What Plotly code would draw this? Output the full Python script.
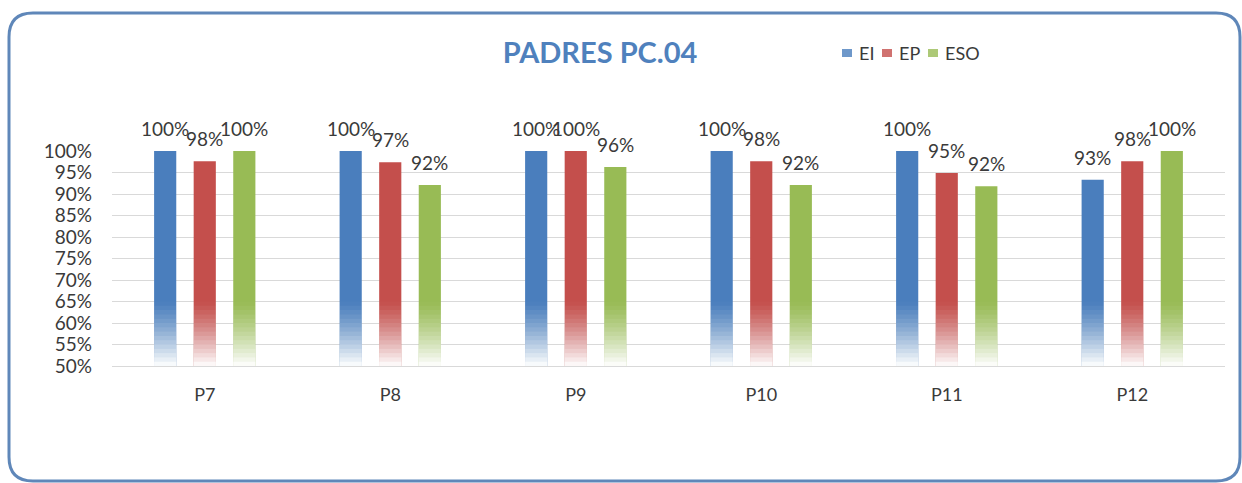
import plotly.graph_objects as go

# data
categories = ["P7", "P8", "P9", "P10", "P11", "P12"]
series_names = ["EI", "EP", "ESO"]
ei_values = [100, 100, 100, 100, 100, 93.3]
ep_values = [97.6, 97.4, 100, 97.6, 94.9, 97.6]
eso_values = [100, 92.1, 96.3, 92.1, 91.8, 100]
ei_labels = ["100%", "100%", "100%", "100%", "100%", "93%"]
ep_labels = ["98%", "97%", "100%", "98%", "95%", "98%"]
eso_labels = ["100%", "92%", "96%", "92%", "92%", "100%"]

colors = ["#4a7ebd", "#c44f4c", "#98bb55"]
FONT = "Lato"
TXT = "#3a3a3a"
Y_MIN, Y_MAX = 50, 100
BARGAP, BARGROUPGAP = 0.36, 0.44

# plot area in pixels (1242x483 page)
L, R, T, B = 112, 17, 151, 117
W, H = 1242 - L - R, 483 - T - B


def px_x(px):
    return (px - L) / W


def px_y(py):
    return (483 - B - py) / H


def white_target(m):
    # how much the bar is washed out to white at height m (Excel style gradient)
    if m < 65:
        return min(0.97, 0.15 + 0.85 * ((65 - m) / 15) ** 1.2)
    return 0.15 * (Y_MAX - m) / (Y_MAX - 65)


# nested white layers [50, 50+j]; alpha so that the stack gives the target
n_layers = Y_MAX - Y_MIN
targets = [white_target(Y_MIN + j - 0.5) for j in range(1, n_layers + 1)] + [0.0]
layer_alpha = []
for j in range(n_layers):
    layer_alpha.append(1 - (1 - targets[j]) / (1 - targets[j + 1]))

fig = go.Figure()

all_values = [ei_values, ep_values, eso_values]
all_labels = [ei_labels, ep_labels, eso_labels]

# pixel offset of each series' bar from the category centre
slot_px = (1 - BARGAP) * (W / len(categories)) / len(series_names)

for i, (name, vals, labs, col) in enumerate(zip(series_names, all_values, all_labels, colors)):
    fig.add_trace(go.Bar(
        x=categories, y=[v - Y_MIN for v in vals], base=Y_MIN,
        name=name, offsetgroup=name, marker=dict(color=col, line_width=0),
    ))
    for j in range(n_layers, 0, -1):
        a = layer_alpha[j - 1]
        if a <= 0.001:
            continue
        fig.add_trace(go.Bar(
            x=categories, y=[max(0, min(j, v - Y_MIN)) for v in vals], base=Y_MIN,
            offsetgroup=name, marker=dict(color=f"rgba(255,255,255,{a:.4f})", line_width=0),
            showlegend=False, hoverinfo="skip",
        ))
    # value labels sit a little higher than plotly's outside text would
    for cat, v, lab in zip(categories, vals, labs):
        fig.add_annotation(x=cat, y=v, text=lab, showarrow=False,
                           xshift=(i - 1) * slot_px, yshift=9, yanchor="bottom",
                           font=dict(family=FONT, size=19, color=TXT))

# rounded border around the chart
x0, x1 = px_x(9), px_x(1240)
y0, y1 = px_y(481), px_y(13)
rx, ry = 24 / W, 24 / H
path = (f"M {x0 + rx},{y1} L {x1 - rx},{y1} Q {x1},{y1} {x1},{y1 - ry} "
        f"L {x1},{y0 + ry} Q {x1},{y0} {x1 - rx},{y0} "
        f"L {x0 + rx},{y0} Q {x0},{y0} {x0},{y0 + ry} "
        f"L {x0},{y1 - ry} Q {x0},{y1} {x0 + rx},{y1} Z")
fig.add_shape(type="path", path=path, xref="paper", yref="paper",
              line=dict(color="#5f87b9", width=3), layer="below")

# compact legend like Excel's: small squares + names
legend_sq_px = [842, 882, 928]
legend_txt_px = [857, 897, 943]
for name, col, sx, tx in zip(series_names, colors, legend_sq_px, legend_txt_px):
    fig.add_shape(type="rect", xref="paper", yref="paper",
                  x0=px_x(sx), x1=px_x(sx + 10), y0=px_y(57), y1=px_y(49),
                  fillcolor=col, opacity=0.8, line_width=0)
    fig.add_annotation(text=name, xref="paper", yref="paper", x=px_x(tx), y=px_y(53),
                       xanchor="left", yanchor="middle", showarrow=False,
                       font=dict(family=FONT, size=18, color=TXT))

fig.update_layout(
    width=1242, height=483,
    margin=dict(l=L, r=R, t=T, b=B),
    paper_bgcolor="white", plot_bgcolor="white",
    barmode="group", bargap=BARGAP, bargroupgap=BARGROUPGAP,
    showlegend=False,
    title=dict(text="<b>PADRES PC.04</b>", x=600 / 1242, xanchor="center",
               y=1 - 53 / 483, yanchor="middle",
               font=dict(family=FONT, size=29, color="#4f81bd")),
    xaxis=dict(showgrid=False, showline=True, linecolor="#d9d9d9", linewidth=1,
               ticks="", ticklabelstandoff=12,
               tickfont=dict(family=FONT, size=18, color=TXT)),
    yaxis=dict(range=[Y_MIN, Y_MAX], dtick=5, ticksuffix="%", showgrid=True,
               gridcolor="#d9d9d9", gridwidth=1, zeroline=False, showline=False,
               ticks="", ticklabelstandoff=19,
               tickfont=dict(family=FONT, size=19, color=TXT)),
)

# the page body has an 8px default margin; drop it so pixels line up
fig.write_html("out.html", config={"displayModeBar": False},
               post_script="document.body.style.margin='0';")
